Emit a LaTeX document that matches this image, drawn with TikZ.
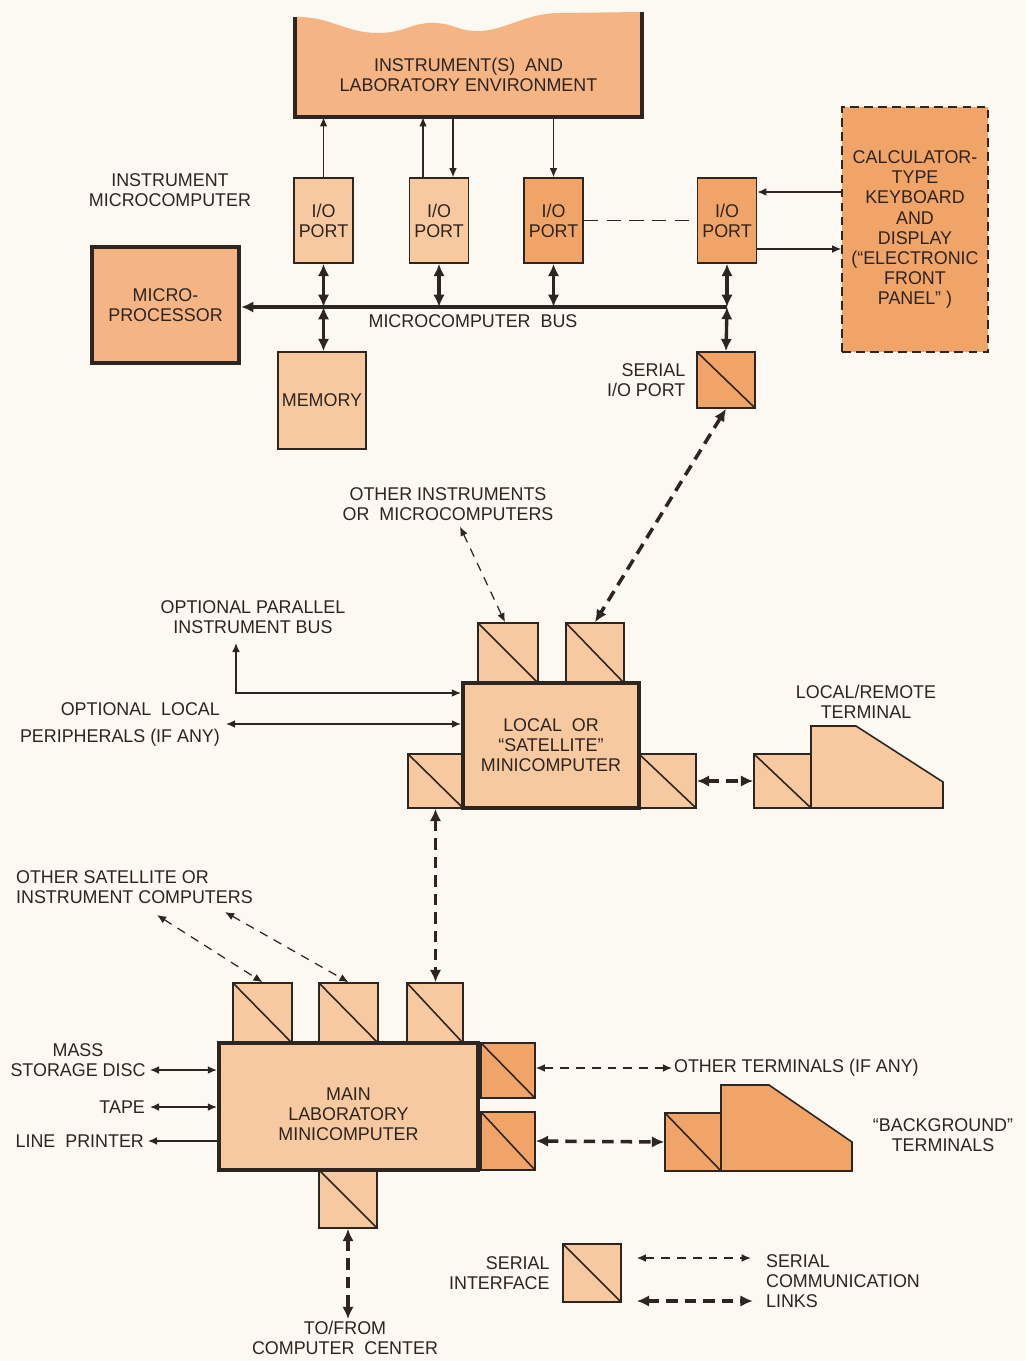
\documentclass[tikz,border=0pt]{standalone}
\usepackage{fontspec}
\setmainfont[FakeStretch=0.97]{Liberation Sans}
\usetikzlibrary{arrows.meta, positioning, calc}
\definecolor{paperTone}  {HTML}{FBF9F1}
\definecolor{inkDark}    {HTML}{2E2420}
\definecolor{orangeLight}{HTML}{F7C9A0}
\definecolor{orangeMid}  {HTML}{F4B483}
\definecolor{orangeDeep} {HTML}{F0A468}

\begin{document}
\begin{tikzpicture}[
    x=0.02cm, y=-0.02cm,
    font=\fontsize{10.5}{11.4}\selectfont,
    box/.style={draw=inkDark, fill=orangeLight, line width=0.9pt, inner sep=1pt,
                align=center, text=inkDark},
    heavy/.style={box, line width=2.4pt},
    ioport/.style={box, minimum width=1.18cm, minimum height=1.7cm},
    serial/.style={box, path picture={\draw[inkDark, line width=0.9pt]
                   (path picture bounding box.north west) -- (path picture bounding box.south east);}},
    lbl/.style={align=center, inner sep=1pt, text=inkDark},
    arr/.style={draw=inkDark, line width=0.7pt, -{Latex[length=5.2pt, width=4.4pt]}},
    arrs/.style={arr, {Latex[length=5.2pt, width=4.4pt]}-{Latex[length=5.2pt, width=4.4pt]}},
    link/.style={arrs, dash pattern=on 5pt off 4pt},
    trunk/.style={draw=inkDark, line width=1.9pt, {Latex[length=7pt, width=6.5pt]}-{Latex[length=7pt, width=6.5pt]}},
    biglink/.style={trunk, line width=2pt, dash pattern=on 6.5pt off 4pt},
  ]
    \fill[paperTone] (0,0) rectangle (1026,1361);

    % instrument side
    \fill[orangeMid] (295,117) -- (295,17) .. controls (330,16) and (345,33) .. (378,33)
        .. controls (405,33) and (410,23) .. (432,23) .. controls (455,23) and (455,31) .. (478,31)
        .. controls (505,31) and (525,13) .. (560,13) -- (642,12) -- (642,117) -- cycle;
    \draw[inkDark, line width=2pt] (295,17) -- (295,117) -- (642,117) -- (642,12);
    \node[lbl, minimum width=6.9cm, minimum height=1.7cm] (env) at (468.5,74.5)
        {INSTRUMENT(S)\ \ AND\\LABORATORY ENVIRONMENT};

    \node[ioport] (iop1) at (323.5,220.5) {I/O\\PORT};
    \node[ioport] (iop2) at (439,220.5) {I/O\\PORT};
    \node[ioport, fill=orangeDeep] (iop3) at (553.5,220.5) {I/O\\PORT};
    \node[ioport, fill=orangeDeep] (iop4) at (727,220.5) {I/O\\PORT};
    \node[box, fill=orangeDeep, dash pattern=on 5pt off 3pt, minimum width=2.92cm, minimum height=4.9cm]
        (kbd) at (915,229.5) {CALCULATOR-\\TYPE\\KEYBOARD\\AND\\DISPLAY\\(``ELECTRONIC\\FRONT\\PANEL'' )};
    \node[heavy, fill=orangeMid, minimum width=2.94cm, minimum height=2.32cm] (mpu) at (165.5,305) {MICRO-\\PROCESSOR};
    \node[box, minimum width=1.76cm, minimum height=1.94cm] (mem) at (322,400.5) {MEMORY};
    \node[serial, fill=orangeDeep, minimum width=1.16cm, minimum height=1.12cm] (sio) at (726,380) {};
    \coordinate (busend) at (727,307);

    \node[lbl] (imc) at (170,190) {INSTRUMENT\\MICROCOMPUTER};
    \node[lbl] (buslbl) at (473,321) {MICROCOMPUTER\ \ BUS};
    \node[lbl, align=right, left=5pt of sio] (siolbl) {SERIAL\\I/O PORT};

    \draw[arr] (iop1.north) -- (iop1.north |- env.south);
    \draw[arr] ($(iop2.north)+(-16,0)$) -- ($(iop2.north |- env.south)+(-16,0)$);
    \draw[arr] ($(iop2.north |- env.south)+(14,0)$) -- ($(iop2.north)+(14,0)$);
    \draw[arr] (iop3.north |- env.south) -- (iop3.north);
    \draw[inkDark, line width=0.7pt, dash pattern=on 8pt off 5pt] (iop3.east) -- (iop4.west);
    \draw[arr] ($(kbd.west)+(0,-37.5)$) -- ($(iop4.east)+(0,-28.5)$);
    \draw[arr] ($(iop4.east)+(0,28.5)$) -- ($(kbd.west)+(0,19.5)$);

    \draw[inkDark, line width=2.2pt, -{Latex[length=7pt, width=6.5pt]}] (busend) -- (mpu.east |- busend);
    \foreach \p in {iop1, iop2, iop3, iop4}
      \draw[trunk] (\p.south) -- (\p.south |- busend);
    \draw[trunk] (iop1.south |- busend) -- (iop1.south |- mem.north);
    \draw[trunk] (busend) -- (sio.north);

    % satellite
    \node[serial, minimum width=1.2cm, minimum height=1.2cm] (sat1) at (508,653) {};
    \node[serial, minimum width=1.16cm, minimum height=1.2cm] (sat2) at (595,653) {};
    \node[serial, minimum width=1.1cm, minimum height=1.08cm] (satL) at (435.5,781) {};
    \node[serial, minimum width=1.14cm, minimum height=1.08cm] (satR) at (667.5,781) {};
    \node[heavy, minimum width=3.52cm, minimum height=2.5cm] (sat) at (551,745.5)
        {LOCAL\ \ OR\\``SATELLITE''\\MINICOMPUTER};
    \node[serial, minimum width=1.14cm, minimum height=1.08cm] (tport) at (782.5,781) {};
    \filldraw[fill=orangeLight, draw=inkDark, line width=0.9pt]
        (811,808) -- (811,726) -- (856,726) -- (943,782) -- (943,808) -- cycle;

    \node[lbl] (lrterm) at (866,702) {LOCAL/REMOTE\\TERMINAL};
    \node[lbl] (othinst) at (448,504) {OTHER INSTRUMENTS\\OR\ \ MICROCOMPUTERS};
    \node[lbl] (parbus) at (253,617) {OPTIONAL PARALLEL\\INSTRUMENT BUS};
    \node[lbl, align=right, anchor=east] (locper) at (222,724) {OPTIONAL\ \ LOCAL\\[4pt]PERIPHERALS (IF ANY)};
    \coordinate (parup) at (236,643);

    \draw[biglink] (sio.south) -- (sat2.north);
    \draw[link] ($(othinst.south)+(12,4)$) -- ($(sat1.north)+(-3,0)$);
    \draw[arrs] (parup) |- ($(sat.west)+(0,-52.5)$);
    \draw[arrs] ($(locper.east)+(4,0)$) -- (locper.east -| sat.west);
    \draw[biglink] (satR.east) -- (tport.west);

    % main laboratory computer
    \node[serial, minimum width=1.18cm, minimum height=1.2cm] (mn1) at (262.5,1013) {};
    \node[serial, minimum width=1.18cm, minimum height=1.2cm] (mn2) at (348.5,1013) {};
    \node[serial, minimum width=1.12cm, minimum height=1.2cm] (mn3) at (435,1013) {};
    \node[serial, fill=orangeDeep, minimum width=1.08cm, minimum height=1.1cm] (mnA) at (508,1070.5) {};
    \node[serial, fill=orangeDeep, minimum width=1.08cm, minimum height=1.16cm] (mnB) at (508,1141) {};
    \node[serial, minimum width=1.16cm, minimum height=1.16cm] (mnC) at (348,1199) {};
    \node[heavy, minimum width=5.18cm, minimum height=2.54cm,
          label={[lbl, yshift=-4.5pt]center:{MAIN\\LABORATORY\\MINICOMPUTER}}] (main) at (348.5,1106.5) {};
    \node[serial, fill=orangeDeep, minimum width=1.12cm, minimum height=1.16cm] (bport) at (693,1142) {};
    \filldraw[fill=orangeDeep, draw=inkDark, line width=0.9pt]
        (721,1171) -- (721,1085) -- (769,1085) -- (852,1142) -- (852,1171) -- cycle;

    \draw[biglink] (satL.south) -- (satL.south |- mn3.north);

    \node[lbl, align=left, anchor=west] (othsat) at (14,887) {OTHER SATELLITE OR\\INSTRUMENT COMPUTERS};
    \coordinate (osc1) at (157,915);
    \coordinate (osc2) at (225,912);
    \draw[link] (osc1) -- (mn1.north);
    \draw[link] (osc2) -- (mn2.north);

    \node[lbl] (disc) at (78,1060) {MASS\\STORAGE DISC};
    \node[lbl, anchor=east] (tape) at (147,1107) {TAPE};
    \node[lbl, anchor=east] (lpr) at (146,1141) {LINE\ \ PRINTER};
    \coordinate (discE) at (150,1070);
    \draw[arrs] (discE) -- (discE -| main.west);
    \draw[arrs] ($(tape.east)+(3,0)$) -- (tape.east -| main.west);
    \draw[arr] (lpr.east -| main.west) -- ($(lpr.east)+(2,0)$);

    \node[lbl, anchor=west] (othterm) at (672,1068) {OTHER TERMINALS (IF ANY)};
    \node[lbl] (bgterm) at (943,1135) {``BACKGROUND''\\TERMINALS};
    \draw[link] (othterm.west -| mnA.east) -- (othterm.west);
    \draw[biglink] (mnB.east) -- (bport.west);

    \node[lbl] (cc) at (345,1338) {TO/FROM\\COMPUTER\ \ CENTER};
    \draw[biglink] (mnC.south) -- (mnC.south |- cc.north);

    % legend
    \node[serial, minimum width=1.16cm, minimum height=1.16cm] (legbox) at (592,1273) {};
    \node[lbl, align=right, left=6pt of legbox] (leglbl) {SERIAL\\INTERFACE};
    \node[lbl, align=left, anchor=west] (legtxt) at (764,1281) {SERIAL\\COMMUNICATION\\LINKS};
    \draw[link] ($(legbox.east)+(15,-15)$) -- ($(legbox.east)+(129,-15)$);
    \draw[biglink] ($(legbox.east)+(15,28)$) -- ($(legbox.east)+(131,28)$);
  \end{tikzpicture}
\end{document}
